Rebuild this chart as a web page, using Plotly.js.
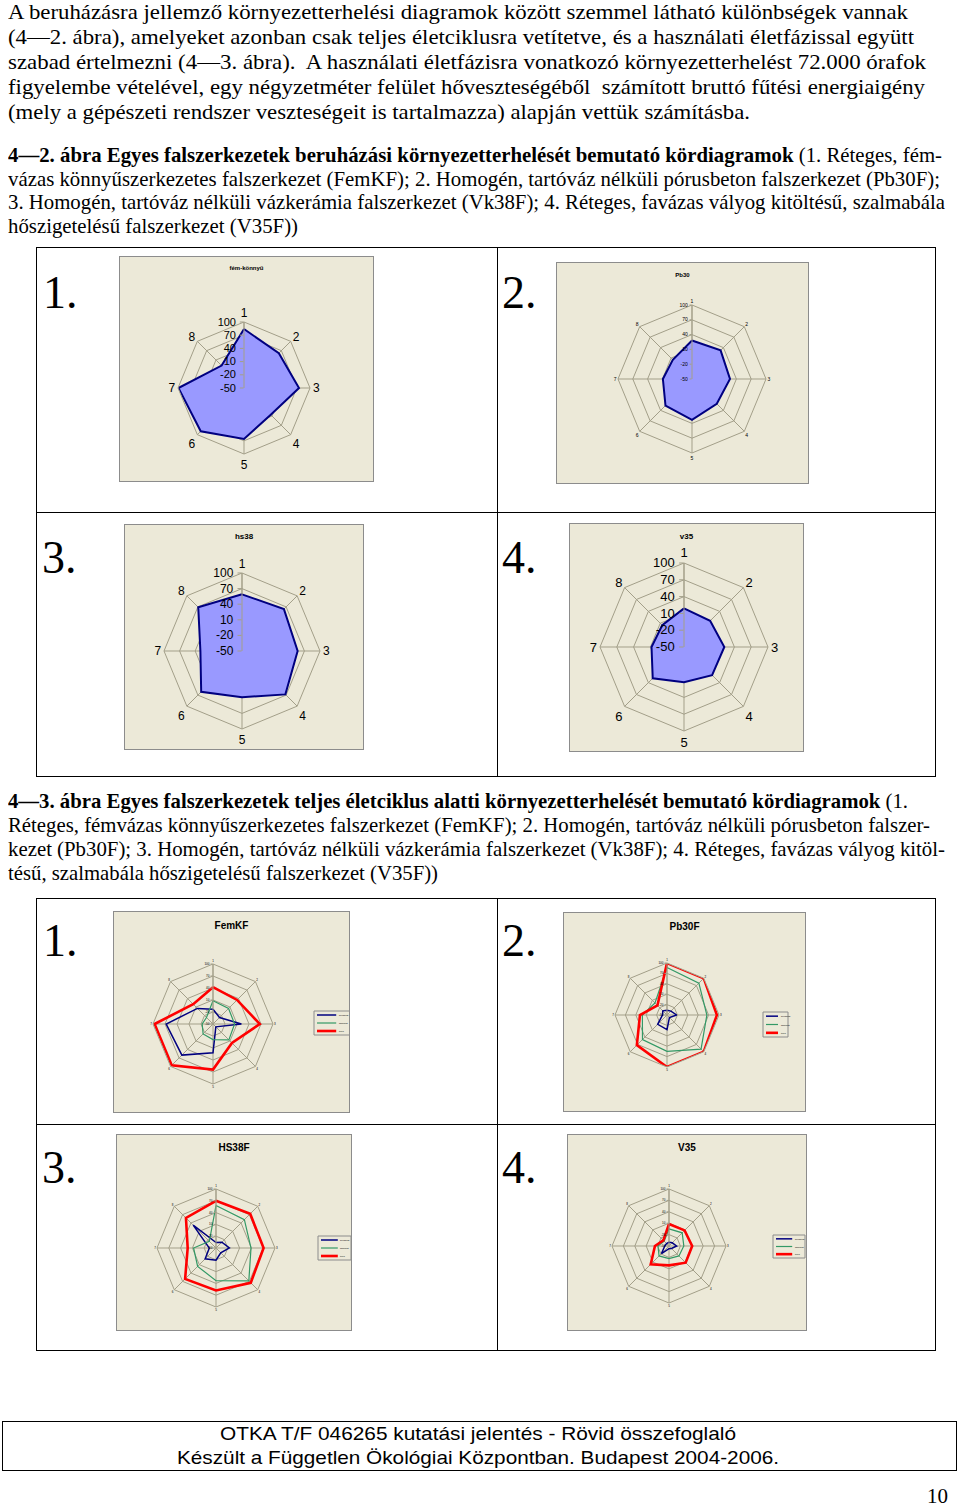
<!DOCTYPE html>
<html><head><meta charset="utf-8">
<script src="https://cdn.plot.ly/plotly-3.0.1.min.js"></script>
<style>
body{margin:0;width:960px;height:1506px;background:#fff;position:relative;overflow:hidden;}
.ln{position:absolute;white-space:nowrap;font-family:"Liberation Serif","Times New Roman",serif;font-size:21px;line-height:24px;transform-origin:0 50%;color:#000}
.ft{font-family:"Liberation Sans",Arial,sans-serif;font-size:19px;}
.num{position:absolute;font-family:"Liberation Serif","Times New Roman",serif;font-size:46px;line-height:46px;color:#000}
.bx{position:absolute;background:#000}
.chart{position:absolute;border:1px solid #8c8c8c;box-sizing:border-box;background:#ECE9D8}
</style></head>
<body>
<div id="page"></div>
<script>
// ---------------- DATA ----------------
const axisLabels = ["1","2","3","4","5","6","7","8"];
const radialTicks = [-50,-20,10,40,70,100];
const tickLabels = ["-50","-20","10","40","70","100"];

// Figure 4-2 (beruházás)
const femKonnyu = [84,62,75,36,66,89,99,22];
const pb30 = [28,32,27,21,33,26,9,5];
const hs38 = [59,64,57,68,39,61,30,69];
const v35 = [19,16,22,21,13,29,8,5];

// Figure 4-3 (teljes életciklus), three series each
const seriesNames = ["beruházás","használat","teljes"];
const femKF_blue  = [-13,-27,21,-40,22,60,67,5];
const femKF_green = [8,5,4,6,-11,-15,-23,-27];
const femKF_red   = [42,35,67,17,64,96,96,20];
const pb30F_blue  = [-36,-34,-22,-40,-8,-12,-37,-33];
const pb30F_green = [87,80,65,89,55,50,21,-1];
const pb30F_red   = [100,100,94,100,100,73,28,-11];
const hs38F_blue  = [-36,-29,-16,-33,-19,-11,-33,32];
const hs38F_green = [58,52,39,68,33,16,7,-26];
const hs38F_red   = [70,73,71,75,58,61,22,58];
const v35F_blue   = [-40,-38,-30,-41,-43,-22,-39,-41];
const v35F_green  = [-5,-1,-11,-13,-17,-13,-21,-32];
const v35F_red    = [8,8,11,12,1,18,-13,-29];

// ---------------- TEXT ----------------
const page = document.getElementById('page');
function line(html, left, cy, w, cls){
  const d = document.createElement('div');
  d.className = 'ln' + (cls ? ' '+cls : '');
  d.innerHTML = html;
  d.style.left = left + 'px';
  d.style.top = (cy - 12) + 'px';
  d.dataset.w = w;
  page.appendChild(d);
}
line("A beruházásra jellemző környezetterhelési diagramok között szemmel látható különbségek vannak", 8, 12, 900);
line("(4—2. ábra), amelyeket azonban csak teljes életciklusra vetítetve, és a használati életfázissal együtt", 8, 37, 906);
line("szabad értelmezni (4—3. ábra).&nbsp; A használati életfázisra vonatkozó környezetterhelést 72.000 órafok", 8, 62, 918);
line("figyelembe vételével, egy négyzetméter felület hőveszteségéből&nbsp; számított bruttó fűtési energiaigény", 8, 87, 917);
line("(mely a gépészeti rendszer veszteségeit is tartalmazza) alapján vettük számításba.", 8, 112, 742);
line("<b>4—2. ábra Egyes falszerkezetek beruházási környezetterhelését bemutató kördiagramok</b> (1. Réteges, fém-", 8, 155, 934);
line("vázas könnyűszerkezetes falszerkezet (FemKF); 2. Homogén, tartóváz nélküli pórusbeton falszerkezet (Pb30F);", 8, 179, 932);
line("3. Homogén, tartóváz nélküli vázkerámia falszerkezet (Vk38F); 4. Réteges, favázas vályog kitöltésű, szalmabála", 8, 202, 937);
line("hőszigetelésű falszerkezet (V35F))", 8, 226, 290);
line("<b>4—3. ábra Egyes falszerkezetek teljes életciklus alatti környezetterhelését bemutató kördiagramok</b> (1.", 8, 801, 900);
line("Réteges, fémvázas könnyűszerkezetes falszerkezet (FemKF); 2. Homogén, tartóváz nélküli pórusbeton falszer-", 8, 825, 922);
line("kezet (Pb30F); 3. Homogén, tartóváz nélküli vázkerámia falszerkezet (Vk38F); 4. Réteges, favázas vályog kitöl-", 8, 849, 937);
line("tésű, szalmabála hőszigetelésű falszerkezet (V35F))", 8, 873, 430);
line("OTKA T/F 046265 kutatási jelentés - Rövid összefoglaló", 220, 1434, 516, 'ft');
line("Készült a Független Ökológiai Központban. Budapest 2004-2006.", 177, 1458, 602, 'ft');
line("10", 927, 1496, 21);

document.querySelectorAll('.ln').forEach(d=>{
  const w = d.getBoundingClientRect().width;
  const t = +d.dataset.w;
  if (w > 0) d.style.transform = 'scaleX(' + (t/w) + ')';
});

function num(t, x, y){
  const d = document.createElement('div'); d.className='num'; d.textContent=t;
  d.style.left=x+'px'; d.style.top=y+'px'; page.appendChild(d);
}
function rule(x,y,w,h){
  const d=document.createElement('div'); d.className='bx';
  d.style.left=x+'px'; d.style.top=y+'px'; d.style.width=w+'px'; d.style.height=h+'px'; page.appendChild(d);
}
// frame of figure 4-2
rule(36,247,900,1); rule(36,776,900,1); rule(36,512,900,1);
rule(36,247,1,530); rule(935,247,1,530); rule(497,247,1,530);
// frame of figure 4-3
rule(36,898,900,1); rule(36,1124,900,1);
rule(36,898,1,452); rule(935,898,1,452); rule(497,898,1,452); rule(36,1350,900,1);
// footer box
rule(2,1421,955,1); rule(2,1470,955,1); rule(2,1421,1,50); rule(956,1421,1,50);

num("1.",43,270); num("2.",502,270); num("3.",42,535); num("4.",502,535);
num("1.",43,918); num("2.",502,918); num("3.",42,1145); num("4.",502,1145);

// ---------------- CHARTS ----------------
const GRID = '#A39F89';
const BG = '#ECE9D8';
const STY = {
  fill:  {line:{color:'#000080',width:2}, fill:'toself', fillcolor:'#9999FF'},
  blue:  {line:{color:'#000080',width:1.5}},
  green: {line:{color:'#339966',width:1.2}},
  red:   {line:{color:'#FF0000',width:2.6}}
};
const charts = [
  {box:[119,256,255,226], cx:124, cy:131, R:66, title:'fém-könnyű', ty:11, ts:6, rf:11, af:12,
   series:[{r:femKonnyu, s:'fill', n:'fém-könnyű'}]},
  {box:[556,262,253,222], cx:135, cy:116, R:74, title:'Pb30', ty:12, ts:6, rf:5, af:5,
   series:[{r:pb30, s:'fill', n:'Pb30'}]},
  {box:[124,524,240,226], cx:117, cy:126, R:78, title:'hs38', ty:11, ts:8, rf:12, af:12,
   series:[{r:hs38, s:'fill', n:'hs38'}]},
  {box:[569,523,235,229], cx:114, cy:123, R:84, title:'v35', ty:12, ts:8, rf:13, af:13,
   series:[{r:v35, s:'fill', n:'v35'}]},
  {box:[113,911,237,202], cx:99, cy:112, R:60, title:'FemKF', ty:13, ts:10, rf:3, af:3, leg:[200,99,237,123],
   series:[{r:femKF_blue,s:'blue',n:seriesNames[0]},{r:femKF_green,s:'green',n:seriesNames[1]},{r:femKF_red,s:'red',n:seriesNames[2]}]},
  {box:[563,912,243,200], cx:103, cy:102, R:52, title:'Pb30F', ty:13, ts:10, rf:3, af:3, leg:[199,99,224,124],
   series:[{r:pb30F_blue,s:'blue',n:seriesNames[0]},{r:pb30F_green,s:'green',n:seriesNames[1]},{r:pb30F_red,s:'red',n:seriesNames[2]}]},
  {box:[116,1134,236,197], cx:99, cy:113, R:59, title:'HS38F', ty:12, ts:10, rf:3, af:3, leg:[201,101,234,125],
   series:[{r:hs38F_blue,s:'blue',n:seriesNames[0]},{r:hs38F_green,s:'green',n:seriesNames[1]},{r:hs38F_red,s:'red',n:seriesNames[2]}]},
  {box:[567,1134,240,197], cx:101, cy:111, R:57, title:'V35', ty:12, ts:10, rf:3, af:3, leg:[205,100,237,123],
   series:[{r:v35F_blue,s:'blue',n:seriesNames[0]},{r:v35F_green,s:'green',n:seriesNames[1]},{r:v35F_red,s:'red',n:seriesNames[2]}]}
];

charts.forEach((c,i)=>{
  const d = document.createElement('div');
  d.className='chart'; d.id='chart'+i;
  const [x,y,w,h] = c.box;
  d.style.left=x+'px'; d.style.top=y+'px'; d.style.width=w+'px'; d.style.height=h+'px';
  page.appendChild(d);
  const W = w-2, H = h-2;
  const traces = c.series.map(s=>Object.assign({
    type:'scatterpolar', mode:'lines', name:s.n,
    r: s.r.concat([s.r[0]]), theta: axisLabels.concat([axisLabels[0]]),
    hoverinfo:'skip'
  }, JSON.parse(JSON.stringify(STY[s.s]))));
  const shapes = [], ann = [];
  if (c.leg){
    const [l0,t0,l1,t1] = c.leg;
    const px = v=>v/W, py = v=>1-v/H;
    shapes.push({type:'rect',xref:'paper',yref:'paper',x0:px(l0),x1:px(l1),y0:py(t1),y1:py(t0),
      line:{color:'#8c8c8c',width:1},fillcolor:BG});
    c.series.forEach((s,k)=>{
      const yy = t0 + (t1-t0)*(k+0.5)/3;
      shapes.push({type:'line',xref:'paper',yref:'paper',x0:px(l0+3),x1:px(l0+(l1-l0)*0.6),y0:py(yy),y1:py(yy),
        line:{color:STY[s.s].line.color,width:STY[s.s].line.width}});
      ann.push({xref:'paper',yref:'paper',x:px(l0+(l1-l0)*0.62),y:py(yy),xanchor:'left',yanchor:'middle',
        text:s.n,showarrow:false,font:{size:2,color:'#000',family:'Liberation Sans, Arial'}});
    });
  }
  const layout = {
    width:W, height:H, margin:{l:0,r:0,t:0,b:0},
    paper_bgcolor:BG, showlegend:false,
    font:{family:'Liberation Sans, Arial, sans-serif', color:'#000'},
    title:{text:'<b>'+c.title+'</b>', x:0.5, xanchor:'center', y:1-c.ty/H, yanchor:'middle', font:{size:c.ts, color:'#000'}},
    polar:{
      domain:{x:[(c.cx-c.R)/W,(c.cx+c.R)/W], y:[(H-c.cy-c.R)/H,(H-c.cy+c.R)/H]},
      bgcolor:BG, gridshape:'linear',
      radialaxis:{range:[-50,100], tickvals:radialTicks, ticktext:tickLabels, angle:90, tickangle:90, side:'counterclockwise',
        showline:true, linecolor:GRID, gridcolor:GRID, linewidth:1, gridwidth:1,
        ticks:'outside', ticklen:Math.max(2,c.rf/3), tickcolor:GRID, tickfont:{size:c.rf, color:'#000'}},
      angularaxis:{type:'category', categoryarray:axisLabels, direction:'clockwise', rotation:90,
        showline:true, linecolor:GRID, gridcolor:GRID, linewidth:1, ticks:'', tickfont:{size:c.af, color:'#000'}}
    },
    shapes:shapes, annotations:ann
  };
  Plotly.newPlot(d, traces, layout, {staticPlot:true, displayModeBar:false});
});
</script>
</body></html>
